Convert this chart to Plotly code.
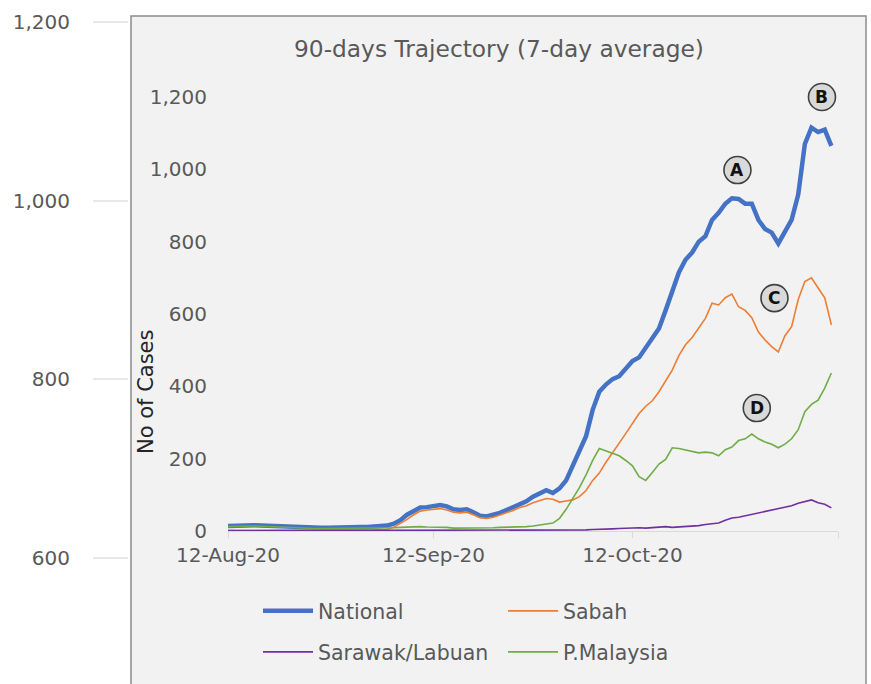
import pandas as pd
import plotly.graph_objects as go

# ---------------- data ----------------
start_date = "2020-08-12"
n_days = 92
dates = pd.date_range(start_date, periods=n_days, freq="D")

national = [14, 15, 16, 16, 16, 15, 14, 13, 12, 11, 10, 10, 9, 9, 9, 9, 10, 10, 10, 11, 11, 11, 12, 13, 15,
            20, 30, 45, 55, 65, 66, 70, 72, 68, 60, 58, 60, 52, 42, 40, 44, 50, 58, 66, 76, 82, 95, 103, 113, 105,
            118, 140, 180, 218, 262, 335, 385, 405, 420, 428, 450, 470, 480, 505, 530, 560, 610, 660, 715, 750, 770, 800, 815, 860, 880,
            905, 920, 918, 905, 905, 860, 835, 825, 795, 830, 860, 930, 1070, 1115, 1103, 1110, 1065]
sabah = [1, 1, 1, 1, 1, 1, 1, 1, 1, 1, 1, 1, 1, 1, 1, 1, 1, 1, 1, 2, 2, 2, 3, 4, 5,
         10, 20, 32, 45, 55, 58, 60, 62, 58, 52, 50, 52, 45, 37, 35, 38, 44, 50, 57, 65, 70, 78, 85, 90, 88,
         80, 83, 86, 95, 112, 140, 160, 190, 215, 243, 270, 298, 325, 345, 360, 385, 415, 445, 485, 515, 535, 560, 588, 630, 625,
         645, 655, 620, 610, 590, 550, 528, 510, 495, 540, 565, 640, 690, 700, 672, 645, 570]
sarawak_labuan = [1, 1, 1, 1, 1, 1, 1, 1, 1, 1, 1, 1, 1, 1, 1, 1, 1, 1, 1, 1, 1, 1, 1, 1, 1,
                  1, 1, 1, 1, 1, 1, 1, 1, 1, 1, 1, 1, 1, 1, 1, 1, 1, 1, 2, 2, 2, 2, 2, 2, 2,
                  2, 3, 3, 2, 3, 4, 4, 5, 6, 7, 8, 10, 9, 8, 10, 11, 12, 10, 11, 11, 13, 15, 18, 20, 22,
                  30, 36, 38, 42, 44, 48, 52, 58, 60, 66, 70, 77, 82, 86, 78, 74, 64]
p_malaysia = [12, 13, 14, 14, 14, 13, 12, 11, 10, 9, 8, 8, 7, 7, 7, 7, 8, 8, 8, 8, 8, 8, 8, 8, 9,
              9, 10, 11, 12, 12, 11, 11, 10, 10, 8, 8, 8, 7, 7, 8, 9, 10, 10, 10, 11, 12, 14, 17, 20, 22,
              35, 60, 90, 120, 155, 195, 228, 222, 215, 208, 195, 180, 150, 140, 162, 185, 198, 230, 228, 224, 220, 216, 218, 216, 208,
              225, 232, 250, 255, 268, 255, 246, 240, 230, 240, 255, 280, 330, 350, 362, 395, 437]

series_names = ["National", "Sabah", "Sarawak/Labuan", "P.Malaysia"]
series_values = [national, sabah, sarawak_labuan, p_malaysia]
series_colors = ["#4472C4", "#ED7D31", "#7030A0", "#70AD47"]
series_widths = [4.5, 1.6, 1.6, 1.6]
series_legend = ["legend", "legend", "legend2", "legend2"]

x_tick_dates = ["2020-08-12", "2020-09-12", "2020-10-12", "2020-11-12"]
x_tick_text = ["12-Aug-20", "12-Sep-20", "12-Oct-20", ""]
y_ticks = [0, 200, 400, 600, 800, 1000, 1200]
outer_y_ticks = [600, 800, 1000, 1200]

marker_labels = ["A", "B", "C", "D"]
marker_dates = ["2020-10-27 20:00", "2020-11-09 14:00", "2020-11-02 10:00", "2020-10-30 18:00"]
marker_values = [998, 1200, 644, 340]

title_text = "90-days Trajectory (7-day average)"
y_title = "No of Cases"

# ---------------- geometry ----------------
W, H = 871, 684
def px_x(p):
    return p / W
def px_y(p):
    return 1 - p / H

FONT = "DejaVu Sans"
GREY = "#595959"

fig = go.Figure()

for name, vals, col, wd, lg in zip(series_names, series_values, series_colors, series_widths, series_legend):
    fig.add_trace(go.Scatter(x=dates, y=vals, mode="lines", name=name,
                             line=dict(color=col, width=wd), legend=lg,
                             hoverinfo="skip"))

# dummy trace for the background (outer) axis
fig.add_trace(go.Scatter(x=[0.5], y=[None], xaxis="x2", yaxis="y2",
                         showlegend=False, hoverinfo="skip"))

# outer axis range from its tick pixel anchors (1,200 at y=22, 600 at y=558)
p_hi, p_lo = px_y(22), px_y(558)
per = (1200 - 600) / (p_hi - p_lo)
outer_range = [600 - p_lo * per, 1200 + (1 - p_hi) * per]

# inner axis: 0 at y=531, 1,200 at y=97; plot area extended up to y=60
val_per_px = 1200 / (531 - 97)
inner_top = (531 - 60) * val_per_px

legend_common = dict(
    orientation="h", x=px_x(258), xanchor="left", yanchor="middle",
    entrywidth=180, entrywidthmode="pixels", itemwidth=50,
    bgcolor="rgba(0,0,0,0)", font=dict(size=20.5, color=GREY, family=FONT),
    traceorder="normal",
)

fig.update_layout(
    width=W, height=H,
    margin=dict(l=0, r=0, t=0, b=0, pad=0, autoexpand=False),
    paper_bgcolor="white",
    plot_bgcolor="rgba(0,0,0,0)",
    font=dict(family=FONT, size=20, color=GREY),
    xaxis=dict(
        domain=[px_x(228), px_x(838)],
        type="date",
        range=["2020-08-12", "2020-11-12"],
        tickvals=x_tick_dates, ticktext=x_tick_text,
        showline=True, linecolor="#D9D9D9", linewidth=1.3,
        ticks="outside", ticklen=6, tickcolor="#D9D9D9", tickwidth=1.3,
        showgrid=False, zeroline=False,
        tickfont=dict(size=20, color=GREY, family=FONT),
        anchor="y", automargin=False,
    ),
    yaxis=dict(
        domain=[px_y(531), px_y(60)],
        range=[0, inner_top],
        tickvals=y_ticks, tickformat=",",
        showgrid=False, zeroline=False, showline=False, ticks="",
        tickfont=dict(size=20, color=GREY, family=FONT),
        ticklabelstandoff=20,
        anchor="x", automargin=False,
    ),
    xaxis2=dict(domain=[px_x(93), px_x(128)], range=[0, 1], visible=False, anchor="y2"),
    yaxis2=dict(
        domain=[0, 1], range=outer_range, anchor="x2",
        tickvals=outer_y_ticks, tickformat=",",
        showgrid=True, gridcolor="#E8E8E8", gridwidth=2,
        zeroline=False, showline=False, ticks="",
        tickfont=dict(size=20, color=GREY, family=FONT),
        ticklabelstandoff=22, automargin=False,
    ),
    legend=dict(y=px_y(611), **legend_common),
    legend2=dict(y=px_y(652), **legend_common),
    showlegend=True,
)

# inner chart box (the pasted chart area)
fig.add_shape(type="rect", xref="paper", yref="paper",
              x0=px_x(131), x1=px_x(866), y0=-0.05, y1=px_y(16),
              fillcolor="#F2F2F2", line=dict(color="#8C8C8C", width=1.5), layer="below")

# title and y-axis title
fig.add_annotation(text=title_text, xref="paper", yref="paper",
                   x=px_x(292), y=px_y(48), xanchor="left", yanchor="middle",
                   showarrow=False, font=dict(size=23.3, color=GREY, family=FONT))
fig.add_annotation(text=y_title, xref="paper", yref="paper",
                   x=px_x(146), y=px_y(392), xanchor="center", yanchor="middle",
                   textangle=-90, showarrow=False,
                   font=dict(size=21, color="#262626", family=FONT))

# circled markers
for lab, d, v in zip(marker_labels, marker_dates, marker_values):
    fig.add_shape(type="circle", xref="x", yref="y", xsizemode="pixel", ysizemode="pixel",
                  xanchor=d, yanchor=v, x0=-13.5, x1=13.5, y0=-13.5, y1=13.5,
                  fillcolor="#D9D9D9", line=dict(color="#404040", width=1.6), layer="above")
    fig.add_annotation(text="<b>%s</b>" % lab, x=d, y=v, xref="x", yref="y",
                       showarrow=False, xanchor="center", yanchor="middle",
                       font=dict(size=17, color="#111111", family=FONT))

fig.write_html("out.html")
